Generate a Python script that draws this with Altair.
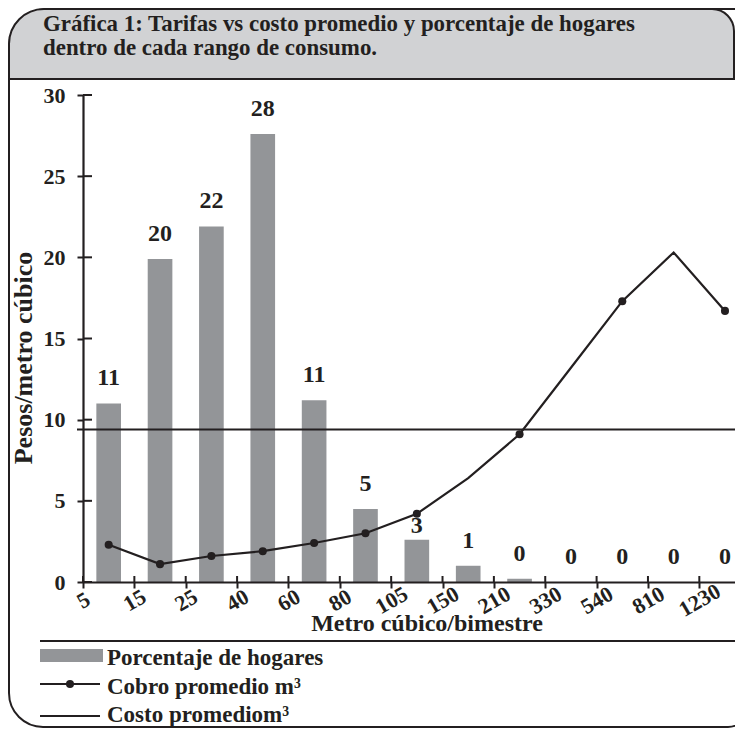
import altair as alt
import pandas as pd

# ---------------- data ----------------
rangos = ["5", "15", "25", "40", "60", "80", "105", "150", "210", "330", "540", "810", "1230"]
pct_hogares = [11.0, 19.9, 21.9, 27.6, 11.2, 4.5, 2.6, 1.0, 0.2, 0, 0, 0, 0]
cobro_promedio = [2.3, 1.1, 1.6, 1.9, 2.4, 3.0, 4.2, 6.4, 9.1, 13.2, 17.3, 20.3, 16.7]
cobro_con_marca = [True, True, True, True, True, True, True, False, True, False, True, False, True]
costo_promedio = [9.4]
y_ticks = [0, 5, 10, 15, 20, 25, 30]
titulo = ["Gráfica 1: Tarifas vs costo promedio y porcentaje de hogares",
          "dentro de cada rango de consumo."]
eje_x_titulo = "Metro cúbico/bimestre"
eje_y_titulo = "Pesos/metro cúbico"
leyenda = ["Porcentaje de hogares", "Cobro promedio m³", "Costo promediom³"]

# ---------------- styling ----------------
FONT = "Liberation Serif"
INK = "#231f20"
BAR = "#939598"
HEAD = "#d1d2d4"
W, H = 652, 487
PAD = {"left": 75, "top": 87, "right": 0, "bottom": 146}
BIN_PX = 51.36

df = pd.DataFrame({
    "i": list(range(len(rangos))),
    "rango": rangos,
    "pct": pct_hogares,
    "cobro": cobro_promedio,
    "marca": cobro_con_marca,
})

xs = alt.Scale(domain=[0, W / BIN_PX], nice=False, zero=False)
ys = alt.Scale(domain=[0, 30], nice=False)

label_arr = "[" + ",".join("'" + r + "'" for r in rangos) + "]"

x_axis = alt.Axis(
    values=list(range(len(rangos))),
    labelExpr=label_arr + "[datum.value]",
    title=None, grid=False,
    domainColor=INK, domainWidth=2.2,
    tickColor=INK, tickWidth=2, tickSize=6,
    labelAngle=330, labelAlign="center", labelBaseline="middle",
    labelPadding=12, labelFont=FONT, labelFontSize=22, labelFontWeight="bold",
    labelColor=INK, labelOverlap=False, labelFlush=False, zindex=1,
)
y_axis = alt.Axis(
    values=y_ticks, title=None, grid=False,
    domainColor=INK, domainWidth=2.2,
    tickColor=INK, tickWidth=2, tickSize=6,
    labelPadding=12, labelFont=FONT, labelFontSize=22, labelFontWeight="bold",
    labelColor=INK, zindex=1,
)

one = alt.Data(values=[{"k": 0}])

# frame and header
frame = alt.Chart(one).mark_rect(
    fill="white", fillOpacity=0, stroke=INK, strokeWidth=2,
    cornerRadiusTopLeft=38, cornerRadiusBottomLeft=34, cornerRadiusBottomRight=20,
).encode(x=alt.value(-74), x2=alt.value(665), y=alt.value(-86), y2=alt.value(632))

header = alt.Chart(one).mark_rect(
    fill=HEAD, stroke=INK, strokeWidth=2,
    cornerRadiusTopLeft=38, cornerRadiusTopRight=22,
).encode(x=alt.value(-74), x2=alt.value(651), y=alt.value(-86), y2=alt.value(-16))

title_layers = []
for k, t in enumerate(titulo):
    title_layers.append(
        alt.Chart(pd.DataFrame({"t": [t]})).mark_text(
            font=FONT, fontSize=22.9, fontWeight="bold", color=INK,
            align="left", baseline="alphabetic",
        ).encode(text="t:N", x=alt.value(-40), y=alt.value(-64 + 24 * k))
    )

bars = alt.Chart(df).transform_calculate(
    x0="datum.i + 0.26", x1="datum.i + 0.74"
).mark_rect(color=BAR).encode(
    x=alt.X("x0:Q", scale=xs, axis=x_axis),
    x2="x1:Q",
    y=alt.Y("pct:Q", scale=ys, axis=y_axis),
    y2=alt.datum(0),
)

# inward halves of the tick marks
y_in = alt.Chart(pd.DataFrame({"v": y_ticks})).mark_rule(color=INK, strokeWidth=2).encode(
    y=alt.Y("v:Q", scale=ys), x=alt.value(0), x2=alt.value(9))
x_in = alt.Chart(df).mark_rule(color=INK, strokeWidth=2).encode(
    x=alt.X("i:Q", scale=xs), y=alt.value(H), y2=alt.value(H - 6))

costo = alt.Chart(pd.DataFrame({"c": costo_promedio})).mark_rule(color=INK, strokeWidth=2).encode(
    y=alt.Y("c:Q", scale=ys), x=alt.value(-6), x2=alt.value(W))

base_c = alt.Chart(df).transform_calculate(xc="datum.i + 0.5")
line = base_c.mark_line(color=INK, strokeWidth=2.2).encode(
    x=alt.X("xc:Q", scale=xs), y=alt.Y("cobro:Q", scale=ys))
pts = base_c.transform_filter("datum.marca").mark_circle(color=INK, size=65, opacity=1).encode(
    x=alt.X("xc:Q", scale=xs), y=alt.Y("cobro:Q", scale=ys))

lab_base = base_c.transform_calculate(lbl="format(datum.pct, '.0f')")
labels = lab_base.transform_filter("datum.rango != '105'").mark_text(
    font=FONT, fontSize=24, fontWeight="bold", color=INK, baseline="middle", dy=-25,
).encode(x=alt.X("xc:Q", scale=xs), y=alt.Y("pct:Q", scale=ys), text="lbl:N")
labels_b = lab_base.transform_filter("datum.rango == '105'").mark_text(
    font=FONT, fontSize=24, fontWeight="bold", color=INK, baseline="middle", dy=-14,
).encode(x=alt.X("xc:Q", scale=xs), y=alt.Y("pct:Q", scale=ys), text="lbl:N")

xtitle = alt.Chart(pd.DataFrame({"t": [eje_x_titulo]})).mark_text(
    font=FONT, fontSize=24, fontWeight="bold", color=INK, align="center", baseline="alphabetic",
).encode(text="t:N", x=alt.value(344), y=alt.value(536))
ytitle = alt.Chart(pd.DataFrame({"t": [eje_y_titulo]})).mark_text(
    font=FONT, fontSize=26, fontWeight="bold", color=INK, align="center", baseline="alphabetic",
    angle=270,
).encode(text="t:N", x=alt.value(-51), y=alt.value(263))

# legend
sep = alt.Chart(one).mark_rule(color=INK, strokeWidth=2.2).encode(
    x=alt.value(-43), x2=alt.value(W), y=alt.value(546))
leg_rect = alt.Chart(one).mark_rect(color=BAR).encode(
    x=alt.value(-43), x2=alt.value(20), y=alt.value(554), y2=alt.value(567))
leg_l2 = alt.Chart(one).mark_rule(color=INK, strokeWidth=2.2).encode(
    x=alt.value(-43), x2=alt.value(17), y=alt.value(589))
leg_p2 = alt.Chart(one).mark_circle(color=INK, size=65, opacity=1).encode(
    x=alt.value(-13), y=alt.value(589))
leg_l3 = alt.Chart(one).mark_rule(color=INK, strokeWidth=2.2).encode(
    x=alt.value(-43), x2=alt.value(17), y=alt.value(621))
leg_texts = []
for k, t in enumerate(leyenda):
    leg_texts.append(
        alt.Chart(pd.DataFrame({"t": [t]})).mark_text(
            font=FONT, fontSize=23, fontWeight="bold", color=INK,
            align="left", baseline="alphabetic",
        ).encode(text="t:N", x=alt.value(24), y=alt.value(570 + 28.5 * k))
    )

chart = alt.layer(
    frame, header, *title_layers,
    bars, costo, line, pts, labels, labels_b, y_in, x_in,
    xtitle, ytitle, sep, leg_rect, leg_l2, leg_p2, leg_l3, *leg_texts,
).properties(
    width=W, height=H,
    autosize=alt.AutoSizeParams(type="none"),
    padding=PAD,
).configure_view(stroke=None)

chart.save("out.html", embed_options={"renderer": "svg", "actions": False})
